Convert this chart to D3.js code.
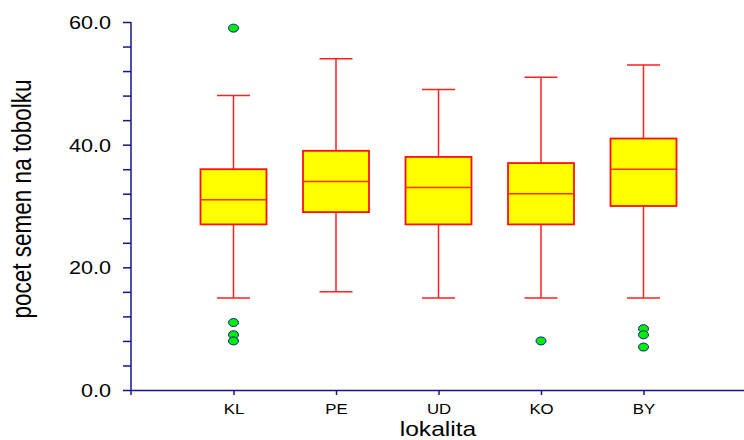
<!DOCTYPE html>
<html>
<head>
<meta charset="utf-8">
<script src="https://cdn.jsdelivr.net/npm/d3@7"></script>
<style>
  html, body { margin: 0; padding: 0; background: #fff; }
  svg { display: block; }
  text { font-family: "Liberation Sans", Arial, sans-serif; fill: #000; }
</style>
</head>
<body>
<svg id="chart" width="744" height="440"></svg>
<script>
// ---- data ----
const categories = ["KL", "PE", "UD", "KO", "BY"];
const whiskerLow = [15, 16, 15, 15, 15];
const q1 = [27, 29, 27, 27, 30];
const median = [31, 34, 33, 32, 36];
const q3 = [36, 39, 38, 37, 41];
const whiskerHigh = [48, 54, 49, 51, 53];
const outliers = [[59, 11, 9, 8], [], [], [8], [10, 9, 7]];
const yMajorTicks = [0, 20, 40, 60];
const yMinorTicks = [4, 8, 12, 16, 24, 28, 32, 36, 44, 48, 52, 56];
const yTitle = "pocet semen na tobolku";
const xTitle = "lokalita";

// ---- layout ----
const svg = d3.select("#chart");
const axisColor = "#14148c";
const stretch = 1.2;

const x = d3.scaleLinear().domain([0, 6]).range([131, 746]);
const y = d3.scaleLinear().domain([0, 60]).range([390, 22]);
const catIndex = d3.scaleOrdinal().domain(categories).range([1, 2, 3, 4, 5]);
const boxW = 66, capW = 33;

// ---- axes ----
const yAxisMinor = svg.append("g").attr("transform", `translate(${x(0)},0)`)
  .call(d3.axisLeft(y).tickValues(yMinorTicks).tickSize(8).tickFormat(""));
yAxisMinor.select(".domain").remove();

const yAxis = svg.append("g").attr("transform", `translate(${x(0)},0)`)
  .call(d3.axisLeft(y).tickValues(yMajorTicks).tickSize(8).tickSizeOuter(0).tickFormat(d3.format(".1f")));

svg.append("line")
  .attr("x1", x(0)).attr("x2", x(0))
  .attr("y1", y(60)).attr("y2", y(0) + 5)
  .attr("stroke", axisColor).attr("stroke-width", 1.5);

const xAxis = svg.append("g").attr("transform", `translate(0,${y(0)})`)
  .call(d3.axisBottom(x).tickValues([1, 2, 3, 4, 5]).tickSize(5).tickSizeOuter(0)
    .tickFormat(d => categories[d - 1]));

[yAxis, yAxisMinor, xAxis].forEach(g => {
  g.selectAll(".domain").attr("stroke", axisColor).attr("stroke-width", 1.5);
  g.selectAll(".tick line").attr("stroke", axisColor).attr("stroke-width", 1.5);
});
yAxis.select(".domain").remove();

yAxis.selectAll(".tick text")
  .attr("x", -20 / stretch)
  .attr("dy", "0.36em")
  .attr("transform", `scale(${stretch},1)`)
  .style("font-size", "18px")
  .style("font-family", "'Liberation Sans', Arial, sans-serif")
  .attr("fill", "#111");

xAxis.selectAll(".tick text")
  .attr("y", 24)
  .attr("dy", "0")
  .attr("transform", `scale(${stretch},1)`)
  .style("font-size", "14px")
  .style("font-family", "'Liberation Sans', Arial, sans-serif")
  .attr("fill", "#111");

// ---- axis titles ----
svg.append("text")
  .attr("transform", `translate(${438},${435.5}) scale(${stretch},1)`)
  .attr("text-anchor", "middle")
  .style("font-size", "20.5px")
  .text(xTitle);

svg.append("text")
  .attr("transform", `translate(${31},${199}) rotate(-90) scale(1,${stretch})`)
  .attr("text-anchor", "middle")
  .style("font-size", "22.5px")
  .text(yTitle);

// ---- boxes ----
const boxes = svg.append("g");
categories.forEach((c, i) => {
  const cx = x(catIndex(c));
  const g = boxes.append("g");
  // whiskers
  g.append("line").attr("x1", cx).attr("x2", cx).attr("y1", y(q3[i])).attr("y2", y(whiskerHigh[i]))
    .attr("stroke", "#ff2020").attr("stroke-width", 1.5);
  g.append("line").attr("x1", cx).attr("x2", cx).attr("y1", y(q1[i])).attr("y2", y(whiskerLow[i]))
    .attr("stroke", "#ff2020").attr("stroke-width", 1.5);
  g.append("line").attr("x1", cx - capW / 2).attr("x2", cx + capW / 2)
    .attr("y1", y(whiskerHigh[i])).attr("y2", y(whiskerHigh[i]))
    .attr("stroke", "#ff2020").attr("stroke-width", 1.5);
  g.append("line").attr("x1", cx - capW / 2).attr("x2", cx + capW / 2)
    .attr("y1", y(whiskerLow[i])).attr("y2", y(whiskerLow[i]))
    .attr("stroke", "#ff2020").attr("stroke-width", 1.5);
  // box
  g.append("rect").attr("x", cx - boxW / 2).attr("width", boxW)
    .attr("y", y(q3[i])).attr("height", y(q1[i]) - y(q3[i]))
    .attr("fill", "#ffff00").attr("stroke", "#ff1010").attr("stroke-width", 1.8);
  g.append("line").attr("x1", cx - boxW / 2).attr("x2", cx + boxW / 2)
    .attr("y1", y(median[i])).attr("y2", y(median[i]))
    .attr("stroke", "#ff3010").attr("stroke-width", 1.5);
  // outliers
  g.selectAll("ellipse").data(outliers[i]).join("ellipse")
    .attr("cx", cx).attr("cy", d => y(d))
    .attr("rx", 5).attr("ry", 4)
    .attr("fill", "#00ee00").attr("stroke", "#1a1a9a").attr("stroke-width", 1);
});
</script>
</body>
</html>
